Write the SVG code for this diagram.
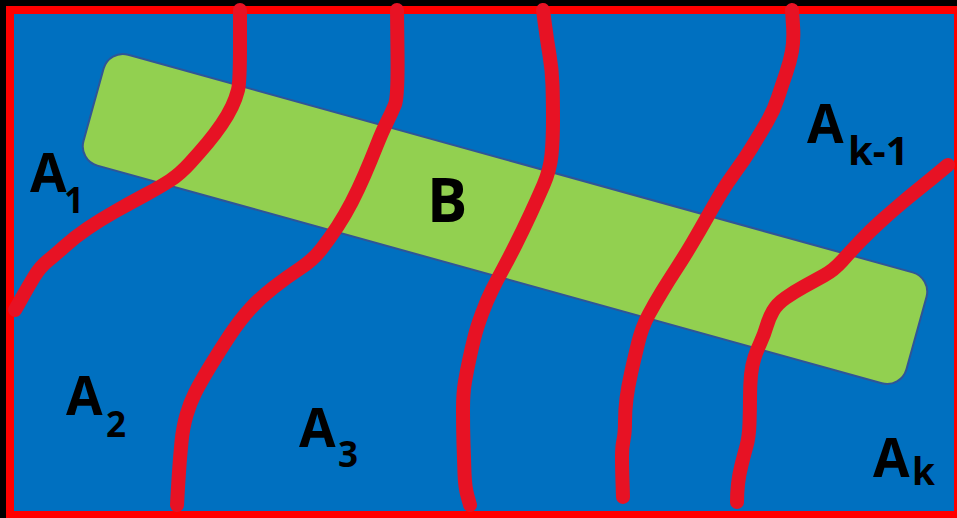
<svg xmlns="http://www.w3.org/2000/svg" width="957" height="518" viewBox="0 0 957 518">
<style>
.cut{fill:none;stroke:#E71224;stroke-width:14;stroke-linecap:round;stroke-linejoin:round}
.lbl{font-family:"Open Sans","Liberation Sans",sans-serif;font-weight:700;fill:#000}
</style>
<rect x="0" y="0" width="957" height="518" fill="#000"/>
<g id="regionA">
<rect x="10" y="10" width="948" height="505" fill="#0070C0" stroke="#FF0000" stroke-width="8"/>
</g>
<g id="B">
<rect x="-427" y="-57.5" width="854" height="115" rx="20" transform="translate(505,219) rotate(15.5)" fill="#92D050" stroke="#2F5597" stroke-width="2"/>
<text class="lbl" x="427" y="222" font-size="60">B</text>
</g>
<g id="connectors">
<path class="cut" d="M240,10 L240,46 Q240,82 238,90 Q236,98 232,106.5 Q228,115 221.5,124.5 Q215,134 207.5,143 Q200,152 190,163 Q180,174 170,180.5 Q160,187 145,195 Q130,203 115,211.5 Q100,220 87.5,228.5 Q75,237 65,246 Q55,255 47.5,261 Q40,267 34,277 Q28,287 21.5,298.5 L15,310"/>
<path class="cut" d="M397,10 L397.5,53.5 Q398,97 395,104.5 Q392,112 387,122 Q382,132 376.5,146 Q371,160 364.5,175 Q358,190 351.5,202.5 Q345,215 337.5,226.5 Q330,238 321.5,249 Q313,260 300,268.5 Q287,277 273.5,287.5 Q260,298 250,309 Q240,320 230,335 Q220,350 210,366.5 Q200,383 195,393 Q190,403 186.5,415 Q183,427 181.5,442 Q180,457 179,472 Q178,487 177.5,496 L177,505"/>
<path class="cut" d="M543,10 L545,25 Q547,40 549.5,55 Q552,70 552.5,85 Q553,100 553,120 Q553,140 551.5,155 Q550,170 543.5,185 Q537,200 530,215 Q523,230 516,244 Q509,258 503,269 Q497,280 492,290 Q487,300 482,313.5 Q477,327 474.5,337 Q472,347 469.5,358.5 Q467,370 465,381.5 Q463,393 463,410 Q463,427 463.5,443.5 Q464,460 464.5,473.5 Q465,487 467.5,496 L470,505"/>
<path class="cut" d="M792,10 L793,25 Q794,40 792,51 Q790,62 786,73.5 Q782,85 778,97.5 Q774,110 767,122 Q760,134 752,147 Q744,160 735.5,171.5 Q727,183 720.5,194 Q714,205 707,217.5 Q700,230 692,243.5 Q684,257 676.5,268.5 Q669,280 662,291.5 Q655,303 648.5,315 Q642,327 638,343.5 Q634,360 631,373.5 Q628,387 626.5,398.5 Q625,410 625,421.5 Q625,433 623.5,440 Q622,447 622,457 Q622,467 622.5,482 L623,497"/>
<path class="cut" d="M948,165 L939,172.5 Q930,180 920,188 Q910,196 900,204.5 Q890,213 880,222 Q870,231 860,241.5 Q850,252 842,261 Q834,270 824,275.5 Q814,281 804,286.5 Q794,292 785.5,298 Q777,304 773,311 Q769,318 766.5,326.5 Q764,335 760.5,342.5 Q757,350 754.5,357.5 Q752,365 751,375 Q750,385 750,397.5 Q750,410 749.5,423.5 Q749,437 746.5,446 Q744,455 741.5,465 Q739,475 738,484 Q737,493 737,502"/>
</g>
<g id="A1"><text class="lbl"><tspan x="30" y="192" font-size="53">A</tspan><tspan x="64" y="213" font-size="35">1</tspan></text></g>
<g id="A2"><text class="lbl"><tspan x="66" y="415" font-size="53">A</tspan><tspan x="106" y="437" font-size="35">2</tspan></text></g>
<g id="A3"><text class="lbl"><tspan x="299" y="447" font-size="53">A</tspan><tspan x="338" y="467" font-size="35">3</tspan></text></g>
<g id="Ak-1"><text class="lbl"><tspan x="807" y="143" font-size="53">A</tspan><tspan x="848" y="165" font-size="40">k-1</tspan></text></g>
<g id="Ak"><text class="lbl"><tspan x="873" y="477" font-size="53">A</tspan><tspan x="912" y="485" font-size="37">k</tspan></text></g>
</svg>
